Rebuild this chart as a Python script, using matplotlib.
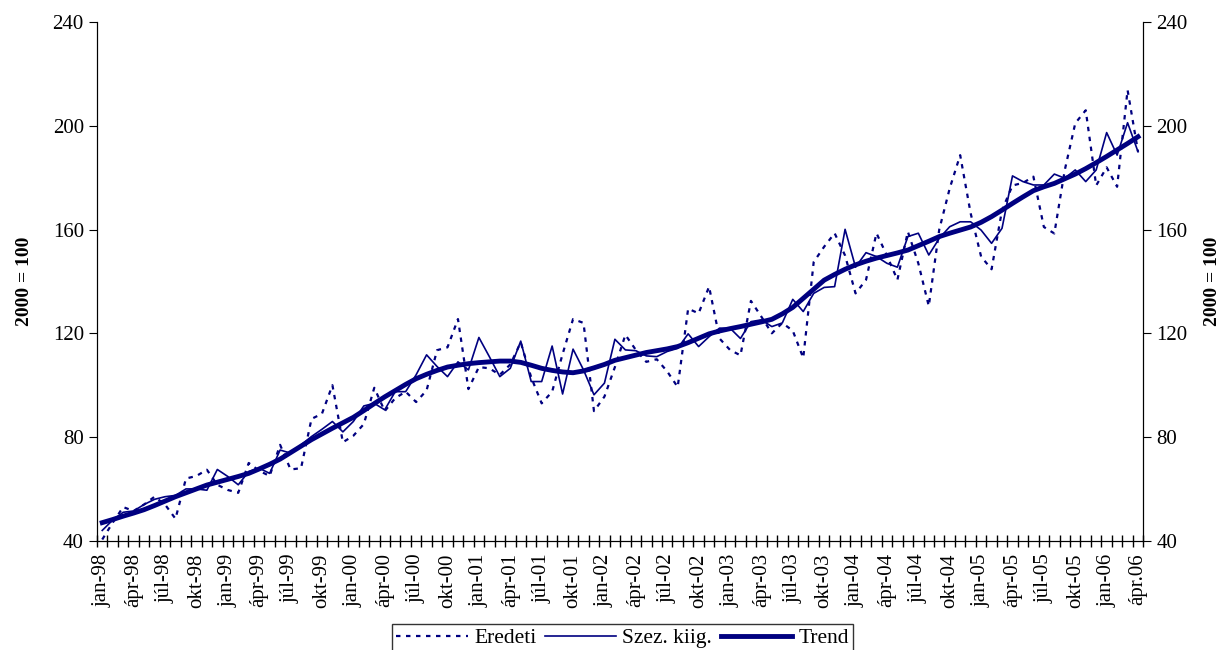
import matplotlib
matplotlib.use("Agg")
import matplotlib.pyplot as plt
from matplotlib.ticker import FixedLocator

# -------------------------
# Data (2000 = 100), monthly jan-98 .. apr-06
# -------------------------

month_names = ["jan", "ápr", "júl", "okt"]
years = ["98", "99", "00", "01", "02", "03", "04", "05", "06"]

eredeti = [
    40.5, 47, 53, 51.5, 54, 57, 54, 48.5, 64, 65,
    67.4, 61.6, 59.6, 58.5, 70, 67, 65, 77, 67.5, 68,
    87, 89, 100, 78, 80.5, 85, 99, 90, 95, 97.5,
    93.5, 98, 113.5, 114.6, 125.5, 98.5, 107, 106.5, 104, 108,
    116.5, 103, 93, 97.5, 112, 125.5, 124, 90, 95.6, 107,
    119.4, 113.6, 109, 110, 105.3, 99.3, 129.5, 127.7, 138, 118,
    113.6, 111.5, 132.5, 126.4, 120, 124, 121, 110.5, 147.5, 153.4,
    158.6, 150, 135.4, 140.6, 158.6, 150, 140.6, 159.2, 147, 130.5,
    160, 175.9, 188.7, 166.3, 149.6, 144.7, 167.5, 177, 178, 180.4,
    161, 158.5, 183, 201, 206, 177, 184, 176.5, 213.8, 190,
]

szez_kiig = [
    44, 48, 51, 51.5, 54, 56, 57, 57.5, 60, 60,
    59.5, 67.5, 64.8, 61.6, 66.7, 68, 66, 75, 73.8, 77,
    80.2, 83, 86, 82, 86, 92, 93, 90.5, 97.5, 97.5,
    104, 111.7, 107.2, 103.3, 109, 105.9, 118.4, 111, 103.3, 106.5,
    117, 101.4, 101.4, 115.1, 96.6, 113.9, 105.9, 96.3, 100.8, 117.7,
    113.6, 113.3, 111.3, 111, 113, 114.2, 119.8, 114.9, 118.7, 122,
    122, 118, 124.5, 125.2, 122.6, 124, 133.1, 128.4, 135.4, 137.7,
    138, 160.1, 145.5, 151.1, 149.6, 147, 145.5, 157.3, 158.6, 150.2,
    156.6, 161.1, 163, 163, 159.8, 154.7, 160.5, 180.7, 178.5, 177.2,
    177.2, 181.4, 179.8, 183, 178.5, 183, 197.4, 188.7, 201.2, 190,
]

trend = [
    47.0, 48.2, 49.5, 50.7, 52.0, 53.6, 55.3, 57.0, 58.5, 60.0,
    61.5, 62.6, 63.7, 64.8, 66.0, 67.7, 69.5, 71.5, 74.0, 76.5,
    79.0, 81.2, 83.4, 85.5, 87.6, 90.2, 92.9, 95.5, 97.9, 100.3,
    102.5, 104.2, 105.7, 107.0, 107.7, 108.3, 108.7, 109.0, 109.3, 109.3,
    108.8, 107.7, 106.5, 105.7, 105.1, 104.8, 105.5, 106.7, 108.0, 109.6,
    110.6, 111.6, 112.6, 113.3, 114.0, 114.9, 116.4, 118.1, 119.8, 120.9,
    121.8, 122.6, 123.5, 124.4, 125.4, 127.5, 130.0, 133.5, 137.0, 140.5,
    142.7, 144.7, 146.4, 147.8, 149.0, 150.0, 151.0, 152.1, 153.8, 155.5,
    157.3, 158.6, 159.8, 161.0, 162.8, 165.0, 167.5, 170.1, 172.6, 175.0,
    176.5, 177.8, 179.6, 181.4, 183.5, 185.8, 188.2, 190.7, 193.2, 195.8,
]

labels = []
for y in years:
    for m in month_names:
        labels.append(f"{m}-{y}")
labels = labels[:34]
labels[-1] = "ápr.06"

x = list(range(len(trend)))
label_pos = list(range(0, len(trend), 3))

# -------------------------
# Plot
# -------------------------

plt.rcParams["font.family"] = ["Liberation Serif", "DejaVu Serif"]

navy = "#000080"

fig = plt.figure(figsize=(12.28, 6.5), dpi=100)
ax = fig.add_axes([0.079, 0.168, 0.852, 0.798])

ax.plot(x, eredeti, color=navy, linestyle=(0, (2, 2.5)), linewidth=1.6,
        label="Eredeti")
ax.plot(x, szez_kiig, color=navy, linewidth=1.2, label="Szez. kiig.")
ax.plot(x, trend, color=navy, linewidth=3.5, label="Trend")

ax.set_xlim(-0.5, len(trend) - 0.5)
ax.set_ylim(40, 240)
ax.set_yticks(range(40, 241, 40))

ax.set_xticks(label_pos)
ax.set_xticklabels(labels, rotation=90, fontsize=15)
ax.xaxis.set_minor_locator(FixedLocator([i - 0.5 for i in range(len(trend) + 1)]))
ax.tick_params(axis="x", which="major", length=0, pad=9)
ax.tick_params(axis="x", which="minor", direction="inout", length=9, width=1)
ax.tick_params(axis="y", direction="out", length=6, labelsize=15)

ax.spines["top"].set_visible(False)
ax.set_ylabel("2000 = 100", fontsize=14, fontweight="bold", labelpad=14)

ax2 = ax.twinx()
ax2.set_ylim(40, 240)
ax2.set_yticks(range(40, 241, 40))
ax2.tick_params(axis="y", direction="out", length=6, labelsize=15)
ax2.spines["top"].set_visible(False)
ax2.set_ylabel("2000 = 100", fontsize=14, fontweight="bold", rotation=90,
               labelpad=12)

leg = fig.legend(loc="upper center", bbox_to_anchor=(0.507, 0.04), ncol=3,
                 fontsize=15.5, frameon=True, fancybox=False, edgecolor="black",
                 handlelength=3.3, columnspacing=0.4, handletextpad=0.3,
                 borderpad=0.2, borderaxespad=0)
leg.get_frame().set_linewidth(1.0)

fig.savefig("out.png", dpi=100)
